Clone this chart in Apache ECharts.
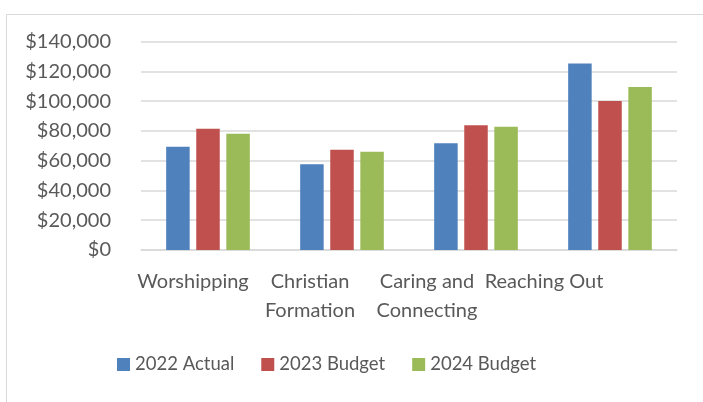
<!DOCTYPE html>
<html>
<head>
<meta charset="utf-8">
<style>html,body{margin:0;padding:0;background:#fff;}#c{width:703px;height:402px;}</style>
<script src="https://cdn.jsdelivr.net/npm/echarts@6/dist/echarts.min.js"></script>
</head>
<body>
<div id="c"></div>
<script>
var categories = ['Worshipping', 'Christian\nFormation', 'Caring and\nConnecting', 'Reaching Out'];
var seriesNames = ['2022 Actual', '2023 Budget', '2024 Budget'];
var actual2022 = [69400, 57600, 71700, 125400];
var budget2023 = [81500, 67400, 83800, 100100];
var budget2024 = [78200, 66100, 82900, 109500];
var yTicks = [0, 20000, 40000, 60000, 80000, 100000, 120000, 140000];

var colors = ['#4F81BD', '#C0504D', '#9BBB59'];
var font = 'Lato, "Open Sans", sans-serif';
var txt = '#595959';
var chart = echarts.init(document.getElementById('c'), null, {renderer: 'canvas'});
var values = [actual2022, budget2023, budget2024];
chart.setOption({
  animation: false,
  color: colors,
  textStyle: {fontFamily: font},
  graphic: [{
    type: 'rect', left: 4, top: 12,
    shape: {x: 0, y: 0, width: 710, height: 389},
    style: {fill: 'none', stroke: '#d9d9d9', lineWidth: 1}, silent: true, z: -10
  }],
  grid: [
    {left: 141, right: 26, top: 41.7, bottom: 152},
    {left: 134.5, width: 468, top: 41.7, bottom: 152}
  ],
  legend: {
    data: seriesNames, left: 117, top: 355, itemWidth: 13, itemHeight: 13, itemGap: 27,
    icon: 'rect', padding: 0,
    textStyle: {fontSize: 18.5, color: txt, fontFamily: font}
  },
  xAxis: [
    {type: 'category', gridIndex: 0, data: categories,
     axisLine: {lineStyle: {color: '#d9d9d9', width: 1.5}}, axisTick: {show: false},
     axisLabel: {show: false}},
    {type: 'category', gridIndex: 1, data: categories,
     axisLine: {show: false}, axisTick: {show: false}, splitLine: {show: false},
     axisLabel: {fontSize: 20, color: txt, fontFamily: font, lineHeight: 29, margin: 17, interval: 0}}
  ],
  yAxis: [
    {type: 'value', gridIndex: 0, min: yTicks[0], max: yTicks[yTicks.length - 1], interval: 20000,
     axisLine: {show: false}, axisTick: {show: false},
     splitLine: {lineStyle: {color: '#d9d9d9', width: 1.5}},
     axisLabel: {fontSize: 20, color: txt, fontFamily: font, margin: 30,
       formatter: function (v) { return '$' + v.toLocaleString('en-US'); }}},
    {type: 'value', gridIndex: 1, show: false, min: 0, max: 140000, splitLine: {show: false}}
  ],
  series: seriesNames.map(function (n, i) {
    return {
      name: n, type: 'bar', xAxisIndex: 0, yAxisIndex: 0, data: values[i],
      barWidth: 23.5, barGap: '28%',
      itemStyle: {color: colors[i]}
    };
  })
});
</script>
</body>
</html>
